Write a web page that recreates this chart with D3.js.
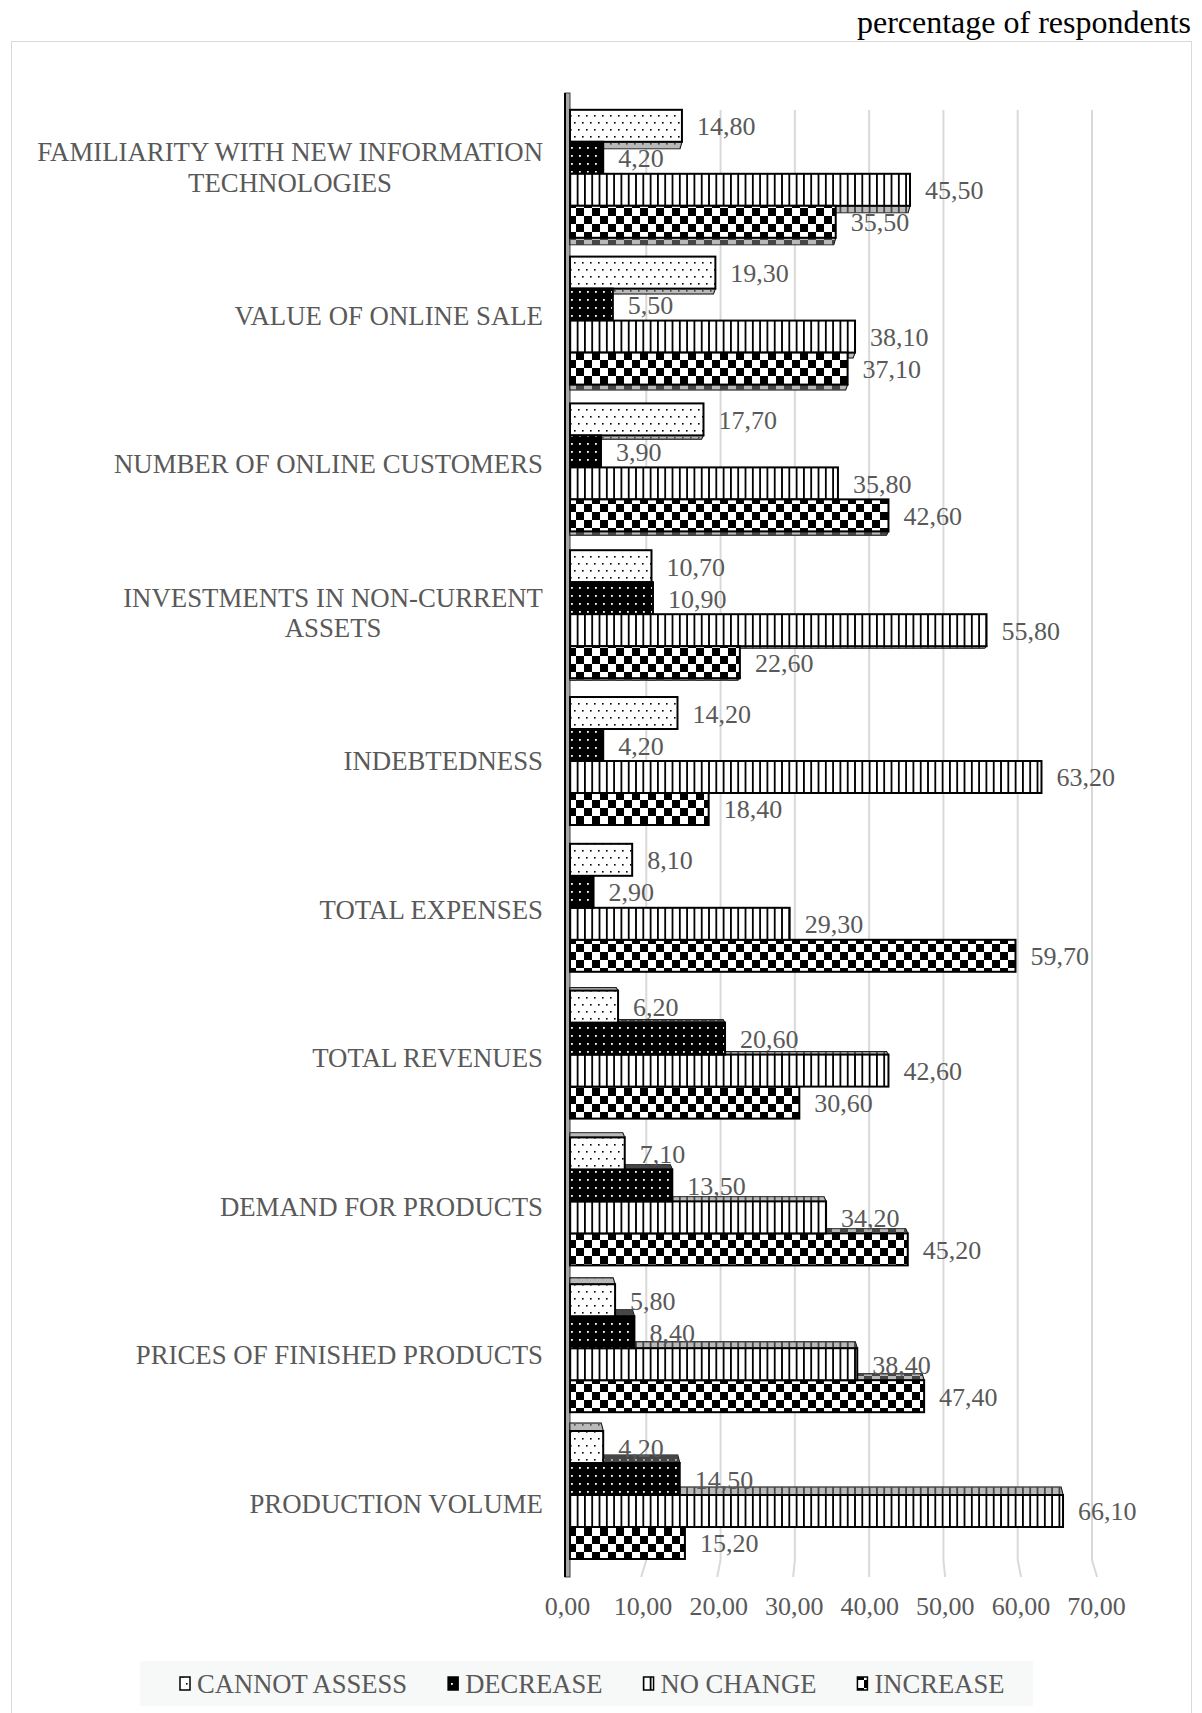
<!DOCTYPE html>
<html lang="en">
<head>
<meta charset="UTF-8">
<title>Percentage of respondents</title>
<style>
  body { margin: 0; background: #fff; }
  svg { display: block; font-family: "Liberation Serif", "Times New Roman", serif; }
</style>
<script src="https://d3js.org/d3.v7.min.js"></script>
</head>
<body>
<div id="chart"></div>
<script>
// data
const categories = [
  "FAMILIARITY WITH NEW INFORMATION|TECHNOLOGIES",
  "VALUE OF ONLINE SALE",
  "NUMBER OF ONLINE CUSTOMERS",
  "INVESTMENTS IN NON-CURRENT|ASSETS",
  "INDEBTEDNESS",
  "TOTAL EXPENSES",
  "TOTAL REVENUES",
  "DEMAND FOR PRODUCTS",
  "PRICES OF FINISHED PRODUCTS",
  "PRODUCTION VOLUME"
];
const seriesNames = ["CANNOT ASSESS", "DECREASE", "NO CHANGE", "INCREASE"];
const cannotAssess = [14.8, 19.3, 17.7, 10.7, 14.2, 8.1, 6.2, 7.1, 5.8, 4.2];
const decrease     = [4.2, 5.5, 3.9, 10.9, 4.2, 2.9, 20.6, 13.5, 8.4, 14.5];
const noChange     = [45.5, 38.1, 35.8, 55.8, 63.2, 29.3, 42.6, 34.2, 38.4, 66.1];
const increase     = [35.5, 37.1, 42.6, 22.6, 18.4, 59.7, 30.6, 45.2, 47.4, 15.2];
const xTicks = [0, 10, 20, 30, 40, 50, 60, 70];

const W = 1202, H = 1713;
const grey = "#595959";
const fmt = d3.formatLocale({decimal: ",", thousands: ".", grouping: [3], currency: ["", ""]}).format(".2f");

const svg = d3.select("#chart").append("svg").attr("width", W).attr("height", H);
const defs = svg.append("defs");

// fill patterns (Excel style)
const pDots = defs.append("pattern").attr("id", "p0").attr("patternUnits", "userSpaceOnUse")
  .attr("width", 8).attr("height", 14);
pDots.append("rect").attr("width", 8).attr("height", 14).attr("fill", "#fff");
pDots.append("rect").attr("x", 2).attr("y", 3).attr("width", 1.6).attr("height", 1.6).attr("fill", "#000");
pDots.append("rect").attr("x", 6).attr("y", 10).attr("width", 1.6).attr("height", 1.6).attr("fill", "#000");

const pDark = defs.append("pattern").attr("id", "p1").attr("patternUnits", "userSpaceOnUse")
  .attr("width", 8).attr("height", 8);
pDark.append("rect").attr("width", 8).attr("height", 8).attr("fill", "#000");
pDark.append("rect").attr("x", 3).attr("y", 3).attr("width", 1.8).attr("height", 1.8).attr("fill", "#fff");

const pStripe = defs.append("pattern").attr("id", "p2").attr("patternUnits", "userSpaceOnUse")
  .attr("width", 7.3).attr("height", 10);
pStripe.append("rect").attr("width", 7.3).attr("height", 10).attr("fill", "#fff");
pStripe.append("rect").attr("x", 0).attr("width", 1.8).attr("height", 10).attr("fill", "#000");

const pCheck = defs.append("pattern").attr("id", "p3").attr("patternUnits", "userSpaceOnUse")
  .attr("width", 16).attr("height", 16);
pCheck.append("rect").attr("width", 16).attr("height", 16).attr("fill", "#fff");
pCheck.append("rect").attr("width", 8).attr("height", 8).attr("fill", "#000");
pCheck.append("rect").attr("x", 8).attr("y", 8).attr("width", 8).attr("height", 8).attr("fill", "#000");

// chart area border
svg.append("rect").attr("x", 11.5).attr("y", 41.5).attr("width", 1180).attr("height", 1700)
  .attr("fill", "#fff").attr("stroke", "#d9d9d9");

svg.append("text").attr("x", 1191).attr("y", 33).attr("text-anchor", "end")
  .attr("font-size", 32).attr("fill", "#000").text("percentage of respondents");

const x = d3.scaleLinear().domain([0, 70]).range([572, 1092]);
// tick labels sit on the front edge of the floor, a bit wider than the back wall
const xLab = d3.scaleLinear().domain([0, 70]).range([567, 1096]);
// category labels sit on the front axis, bars are slightly squeezed by the perspective
const yLab = d3.scaleBand().domain(categories).range([93, 1578]);
const y = d3.scaleBand().domain(categories).range([100.4, 1568.4]);
const y1 = d3.scaleBand().domain(seriesNames).range([0, y.bandwidth()]).paddingOuter(0.294);

// gridlines with a small bend on the floor
const grid = svg.append("g");
xTicks.filter(d => d > 0).forEach(v => {
  const gx = x(v);
  grid.append("path")
    .attr("d", `M${gx},110 L${gx},1560 L${gx + (v - 40) * 0.17},1577`)
    .attr("fill", "none").attr("stroke", "#d9d9d9").attr("stroke-width", 2);
});

// tick labels
const xAxis = svg.append("g").attr("transform", "translate(0,1594)")
  .call(d3.axisBottom(xLab).tickValues(xTicks).tickSize(0).tickFormat(fmt));
xAxis.select(".domain").remove();
xAxis.selectAll("text").attr("font-size", 26).attr("fill", grey)
  .attr("font-family", "Liberation Serif").attr("dy", "0.71em");

// side wall
svg.append("rect").attr("x", 565).attr("y", 93).attr("width", 5).attr("height", 1484)
  .attr("fill", "#a6a6a6").attr("stroke", "#404040").attr("stroke-width", 1);
svg.append("line").attr("x1", 565).attr("x2", 565).attr("y1", 93).attr("y2", 1577)
  .attr("stroke", "#000").attr("stroke-width", 2);

const values = [cannotAssess, decrease, noChange, increase];
const eyeY = 790;
const barsG = svg.append("g");
const labelsG = svg.append("g");

categories.forEach((cat, ci) => {
  const rows = seriesNames.map((s, si) => ({s, si, v: values[si][ci], y0: y(cat) + y1(s)}));
  const cy = y(cat) + y.bandwidth() / 2;
  const face = (cy - eyeY) * 0.0113; // >0 top face visible, <0 bottom face visible
  const order = face > 0 ? rows.slice().reverse() : rows;
  const bh = y1.bandwidth();

  order.forEach(r => {
    const x0 = 570, xe = x(r.v);
    const g = barsG.append("g");
    const hh = Math.abs(face);
    let pts;
    if (face > 0) {
      pts = [[x0, r.y0], [xe, r.y0], [xe - 2, r.y0 - hh], [x0, r.y0 - hh]];
    } else {
      const yb = r.y0 + bh;
      pts = [[x0, yb], [xe, yb], [xe - 2, yb + hh], [x0, yb + hh]];
    }
    if (hh > 1.5) {
      g.append("polygon").attr("points", pts.map(p => p.join(",")).join(" "))
        .attr("fill", `url(#p${r.si})`).attr("stroke", "#000").attr("stroke-width", 1.2);
      g.append("polygon").attr("points", pts.map(p => p.join(",")).join(" "))
        .attr("fill", "#808080").attr("fill-opacity", 0.55);
    }
    g.append("rect").attr("x", x0).attr("y", r.y0).attr("width", xe - x0).attr("height", bh)
      .attr("fill", `url(#p${r.si})`).attr("stroke", "#000").attr("stroke-width", 2);
  });

  rows.forEach(r => {
    labelsG.append("text").attr("x", x(r.v) + 15).attr("y", r.y0 + bh / 2 + 1)
      .attr("dominant-baseline", "central").attr("font-size", 26).attr("fill", grey)
      .text(fmt(r.v));
  });

  // category label (multi-line centred inside a right-aligned block)
  const lines = cat.split("|");
  const lcy = yLab(cat) + yLab.bandwidth() / 2;
  const tg = svg.append("g");
  const texts = lines.map((t, li) => tg.append("text")
    .attr("y", lcy + (li - (lines.length - 1) / 2) * 30.5)
    .attr("dominant-baseline", "central").attr("font-size", 26.8).attr("fill", grey)
    .attr("text-anchor", "middle").text(t));
  const blockW = d3.max(texts, t => t.node().getComputedTextLength());
  texts.forEach(t => t.attr("x", 543 - blockW / 2));
});

// legend
svg.append("rect").attr("x", 140).attr("y", 1661).attr("width", 893).attr("height", 45).attr("fill", "#f7f8f8");
let lx = 180;
seriesNames.forEach((s, si) => {
  svg.append("rect").attr("x", lx).attr("y", 1677).attr("width", 10).attr("height", 13)
    .attr("fill", `url(#p${si})`).attr("stroke", "#000").attr("stroke-width", 1.5);
  const t = svg.append("text").attr("x", lx + 17).attr("y", 1684).attr("dominant-baseline", "central")
    .attr("font-size", 26.6).attr("fill", grey).text(s);
  lx += 17 + t.node().getComputedTextLength() + 41;
});
</script>
</body>
</html>
